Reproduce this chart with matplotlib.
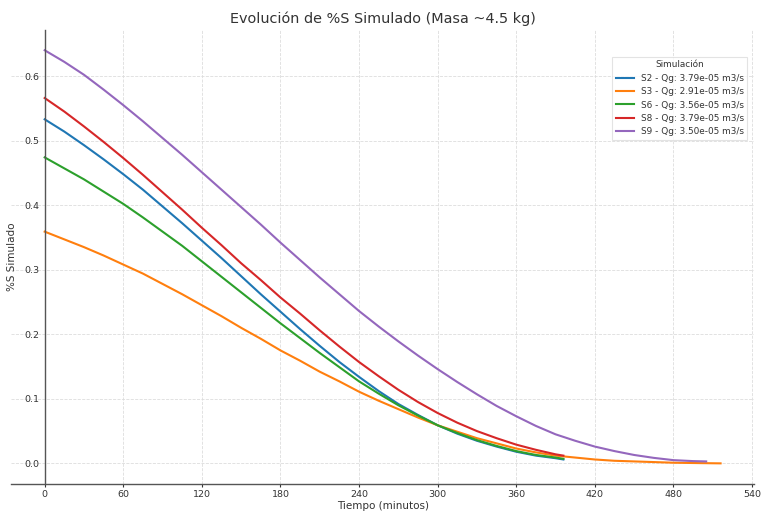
import matplotlib
matplotlib.use("Agg")
import matplotlib.pyplot as plt

# tiempo de simulacion (minutos) y %S simulado por ensayo
t_s2 = [0, 15, 30, 45, 60, 75, 90, 105, 120, 135, 150, 165, 180, 195, 210, 225, 240,
        255, 270, 285, 300, 315, 330, 345, 360, 375, 390, 396]
s2 = [0.533, 0.514, 0.493, 0.471, 0.448, 0.424, 0.398, 0.372, 0.345, 0.318, 0.290, 0.262,
      0.235, 0.208, 0.182, 0.157, 0.134, 0.112, 0.092, 0.075, 0.059, 0.046, 0.035, 0.026,
      0.018, 0.012, 0.008, 0.006]

t_s3 = [0, 15, 30, 45, 60, 75, 90, 105, 120, 135, 150, 165, 180, 195, 210, 225, 240,
        255, 270, 285, 300, 315, 330, 345, 360, 375, 390, 405, 420, 435, 450, 465, 480,
        500, 516]
s3 = [0.359, 0.347, 0.335, 0.322, 0.308, 0.294, 0.278, 0.262, 0.245, 0.228, 0.210, 0.193,
      0.175, 0.159, 0.142, 0.127, 0.111, 0.097, 0.084, 0.071, 0.059, 0.049, 0.039, 0.031,
      0.023, 0.017, 0.012, 0.009, 0.006, 0.004, 0.003, 0.002, 0.001, 0.0004, 0.0]

t_s6 = [0, 15, 30, 45, 60, 75, 90, 105, 120, 135, 150, 165, 180, 195, 210, 225, 240,
        255, 270, 285, 300, 315, 330, 345, 360, 375, 390, 396]
s6 = [0.474, 0.457, 0.440, 0.421, 0.402, 0.381, 0.359, 0.337, 0.313, 0.289, 0.265, 0.241,
      0.217, 0.194, 0.171, 0.149, 0.127, 0.108, 0.090, 0.074, 0.059, 0.047, 0.036, 0.027,
      0.019, 0.013, 0.009, 0.007]

t_s8 = [0, 15, 30, 45, 60, 75, 90, 105, 120, 135, 150, 165, 180, 195, 210, 225, 240,
        255, 270, 285, 300, 315, 330, 345, 360, 375, 390, 396]
s8 = [0.566, 0.545, 0.522, 0.498, 0.473, 0.447, 0.420, 0.393, 0.365, 0.338, 0.310, 0.284,
      0.257, 0.232, 0.206, 0.181, 0.157, 0.135, 0.114, 0.095, 0.078, 0.063, 0.050, 0.039,
      0.029, 0.021, 0.014, 0.012]

t_s9 = [0, 15, 30, 45, 60, 75, 90, 105, 120, 135, 150, 165, 180, 195, 210, 225, 240,
        255, 270, 285, 300, 315, 330, 345, 360, 375, 390, 405, 420, 435, 450, 465, 480,
        495, 505]
s9 = [0.640, 0.622, 0.602, 0.579, 0.555, 0.530, 0.504, 0.478, 0.451, 0.424, 0.397, 0.370,
      0.342, 0.315, 0.288, 0.262, 0.236, 0.212, 0.189, 0.167, 0.146, 0.126, 0.107, 0.089,
      0.073, 0.058, 0.045, 0.035, 0.026, 0.019, 0.013, 0.0085, 0.005, 0.0035, 0.003]

labels = [
    "S2 - Qg: 3.79e-05 m3/s",
    "S3 - Qg: 2.91e-05 m3/s",
    "S6 - Qg: 3.56e-05 m3/s",
    "S8 - Qg: 3.79e-05 m3/s",
    "S9 - Qg: 3.50e-05 m3/s",
]
x_ticks = [0, 60, 120, 180, 240, 300, 360, 420, 480, 540]

text_color = "#333333"
plt.rcParams["font.family"] = ["DejaVu Sans"]

fig = plt.figure(figsize=(7.61, 5.13), dpi=100)
ax = fig.add_axes([0.0143, 0.0565, 0.977, 0.8858])

series = [(t_s2, s2), (t_s3, s3), (t_s6, s6), (t_s8, s8), (t_s9, s9)]
for (t, s), lab in zip(series, labels):
    ax.plot(t, s, lw=1.5, label=lab)

ax.set_xticks(x_ticks)
ax.set_yticks([0.0, 0.1, 0.2, 0.3, 0.4, 0.5, 0.6])
ax.grid(True, ls="--", lw=0.6, color="#dddddd")
ax.set_axisbelow(True)

for side in ["top", "right"]:
    ax.spines[side].set_visible(False)
ax.spines["left"].set_position(("data", 0))
for side in ["left", "bottom"]:
    ax.spines[side].set_color("#555555")
    ax.spines[side].set_linewidth(1.0)

ax.tick_params(axis="x", labelsize=6.8, colors=text_color, length=2.5, width=0.8, pad=1.5)
ax.tick_params(axis="y", labelsize=6.8, colors=text_color, length=0, pad=4)

ax.set_title("Evolución de %S Simulado (Masa ~4.5 kg)", fontsize=10.4, color=text_color, pad=4.5)
ax.set_xlabel("Tiempo (minutos)", fontsize=7.5, color=text_color, labelpad=2)
ax.set_ylabel("%S Simulado", fontsize=7.5, color=text_color, labelpad=2)
ax.yaxis.set_label_coords(0.008, 0.5)

leg = ax.legend(title="Simulación", loc="upper right", bbox_to_anchor=(0.9906, 0.9405),
                borderaxespad=0, fontsize=6.4, title_fontsize=6.4, frameon=True,
                fancybox=False, edgecolor="#dddddd")
leg.get_frame().set_linewidth(0.8)
for txt in leg.get_texts():
    txt.set_color(text_color)
leg.get_title().set_color(text_color)

fig.savefig("out.png", dpi=100)
